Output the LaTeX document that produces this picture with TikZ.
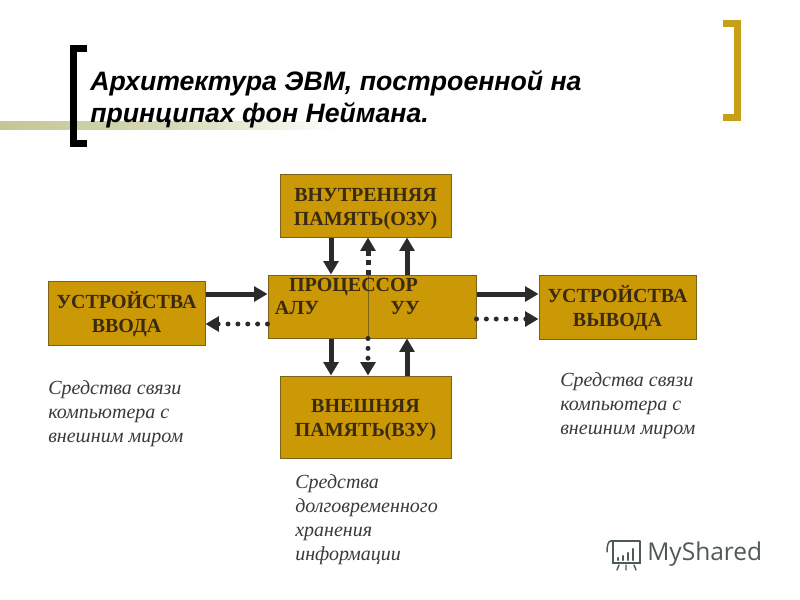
\documentclass[tikz,border=0pt]{standalone}
\usepackage{fontspec}
\setmainfont{Liberation Serif}
\newfontfamily\titlefont{Liberation Sans}
\newfontfamily\logofont{Open Sans}
\usetikzlibrary{arrows.meta,shadings}
\definecolor{boxfill}{HTML}{CB9806}
\definecolor{boxline}{HTML}{7A6218}
\definecolor{boxtext}{HTML}{3A2A10}
\definecolor{arrowc}{HTML}{2B2B2B}
\definecolor{goldbr}{HTML}{C6A017}
\definecolor{olivebar}{HTML}{C3C795}
\definecolor{captionc}{HTML}{3A3A3A}
\definecolor{logoc}{HTML}{4F5A58}
\tikzset{
  x=0.75pt,y=-0.75pt,
  box/.style={draw=boxline,line width=0.75pt,fill=boxfill,minimum width=#1,inner sep=0pt},
  lab/.style={text=boxtext,font=\fontsize{15}{18}\selectfont\bfseries,inner sep=0pt},
  captext/.style={anchor=north west,inner sep=0pt,align=left,text=captionc,font=\fontsize{15}{18}\selectfont\itshape},
  solidarr/.style={draw=arrowc,line width=3.75pt,-{Triangle[length=10pt,width=11pt]}},
  dotarr/.style={draw=arrowc,line width=3.75pt,line cap=round,dash pattern=on 0pt off 7.4pt,-{Triangle[length=10pt,width=11pt]}},
  sqdotarr/.style={draw=arrowc,line width=3.75pt,dash pattern=on 3.75pt off 3.2pt,-{Triangle[length=10pt,width=11pt]}},
  bracket/.style={line width=5.25pt,miter limit=10},
}
\begin{document}
\begin{tikzpicture}
\useasboundingbox (0,0) rectangle (800,600);
\fill[white] (0,0) rectangle (800,600);
% title decoration
\shade[left color=olivebar,right color=white,middle color=olivebar!70] (0,121) rectangle (340,129);
\draw[bracket,black] (87,48.5) -- (73.5,48.5) -- (73.5,143) -- (87,143);
\draw[bracket,goldbr] (723,23) -- (737.5,23) -- (737.5,117.5) -- (723,117.5);
\node[anchor=west,inner sep=0pt,align=left,font=\fontsize{20}{24}\selectfont\titlefont\bfseries\itshape,text=black]
  (title) at (90,99) {Архитектура ЭВМ, построенной на\\принципах фон Неймана.};
% boxes
\node[box=128.25pt,minimum height=47.25pt] (top) at (365.5,205.5) {};
\node[lab,align=center] (toptext) at (365.5,209) {ВНУТРЕННЯЯ\\ПАМЯТЬ(ОЗУ)};
\node[box=156pt,minimum height=47.25pt] (proc) at (372,306.5) {};
\node[box=128.25pt,minimum height=61.5pt] (bot) at (365.5,417) {};
\node[lab,align=center] (bottext) at (365.5,420) {ВНЕШНЯЯ\\ПАМЯТЬ(ВЗУ)};
\node[box=117.75pt,minimum height=48pt] (inp) at (126.5,313) {};
\node[lab,align=center] (inptext) at (126.5,314) {УСТРОЙСТВА\\ВВОДА};
\node[box=117.75pt,minimum height=48pt] (out) at (617.5,307) {};
\node[lab,align=center] (outtext) at (617.5,308) {УСТРОЙСТВА\\ВЫВОДА};
% processor contents
\coordinate (dtop) at (368.5,275);
\coordinate (dbot) at (368.5,338);
\draw[boxline,line width=0.8pt] (dtop) -- (dbot);
\node[lab] (ptitle) at (353.5,287) {ПРОЦЕССОР};
\node[lab] (alu) at (297,308) {АЛУ};
\node[lab] (uu) at (405,308) {УУ};
% column guides
\coordinate (c1) at (331,0);
\coordinate (c2) at (368,0);
\coordinate (c3) at (407,0);
\coordinate (r1) at (0,294);
\coordinate (r2) at (0,324);
\coordinate (r3) at (0,319);
% vertical connectors
\draw[solidarr] (top.south -| c1) -- (proc.north -| c1);
\draw[sqdotarr] (proc.north -| c2) -- (top.south -| c2);
\draw[solidarr] (proc.north -| c3) -- (top.south -| c3);
\draw[solidarr] (proc.south -| c1) -- (bot.north -| c1);
\draw[dotarr] (proc.south -| c2) -- (bot.north -| c2);
\draw[solidarr] (bot.north -| c3) -- (proc.south -| c3);
% horizontal connectors
\draw[solidarr] (inp.east |- r1) -- (proc.west |- r1);
\draw[dotarr] (proc.west |- r2) -- (inp.east |- r2);
\draw[solidarr] (proc.east |- r1) -- (out.west |- r1);
\draw[dotarr] (proc.east |- r3) -- (out.west |- r3);
% captions
\node[captext] (c-left) at (48,380) {Средства связи\\компьютера с\\внешним миром};
\node[captext] (c-right) at (560,372) {Средства связи\\компьютера с\\внешним миром};
\node[captext] (c-bot) at (295,474) {Средства\\долговременного\\хранения\\информации};
% logo
\begin{scope}[draw=logoc,line width=1.1pt,line cap=round]
 \draw (611,541) -- (640,541) (613,541) -- (613,563) -- (640,563) -- (640,541);
 \draw (611,541) .. controls (608,541) and (607,546) .. (607,552);
 \draw[line width=1.6pt] (618,560) -- (618,558) (623,560) -- (623,556) (628,560) -- (628,553) (633,560) -- (633,549);
 \draw (619,565) -- (617,570) (626,565) -- (626,570) (634,565) -- (636,570);
\end{scope}
\node[anchor=west,inner sep=0pt,text=logoc,font=\fontsize{18.4}{24}\logofont] (logo) at (647,554) {MyShared};
\end{tikzpicture}
\end{document}
